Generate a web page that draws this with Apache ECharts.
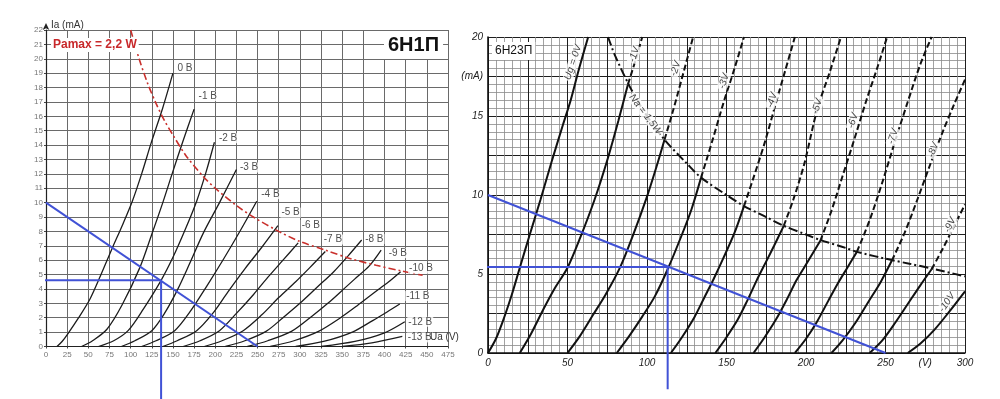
<!DOCTYPE html>
<html><head><meta charset="utf-8">
<script src="https://cdn.jsdelivr.net/npm/echarts@6/dist/echarts.min.js"></script>
<style>html,body{margin:0;padding:0;background:#fff}#c{width:1000px;height:399px}</style>
</head><body><div id="c"></div>
<script>
// ================= DATA: 6Н1П (left) =================
const leftGridLabels = ['0 В','-1 В','-2 В','-3 В','-4 В','-5 В','-6 В','-7 В','-8 В','-9 В','-10 В','-11 В','-12 В','-13 В'];
const L0  = [[13,0],[19,0.35],[26,0.9],[38,1.95],[52,3.3],[65,5],[78,6.8],[90,8.4],[102,10.1],[113,12],[124,14.1],[138,16.6],[150,19]];
const L1  = [[42,0],[55,0.4],[72,1.2],[90,2.9],[111,5.5],[125,7.8],[138,10],[149,12],[162,14.3],[175,16.5]];
const L2  = [[62,0],[80,0.4],[97,1.1],[115,2.6],[136,4.6],[150,6.2],[165,8.2],[178,10.1],[189,12.1],[199,14.2]];
const L3  = [[89,0],[105,0.4],[125,1.1],[140,2.3],[155,3.9],[170,5.8],[186,7.9],[205,10],[225,12.3]];
const L4  = [[113,0],[130,0.4],[152,1.1],[170,2.4],[190,4.2],[210,6.1],[230,8.1],[249,10.1]];
const L5  = [[138,0],[155,0.4],[178,1.1],[197,2.3],[215,3.8],[235,5.4],[255,6.9],[274,8.4]];
const L6  = [[162,0],[182,0.4],[205,1.1],[225,2.3],[245,3.6],[262,4.8],[280,6],[298,7.2]];
const L7  = [[187,0],[208,0.4],[233,1.1],[255,2.2],[275,3.4],[295,4.5],[312,5.5],[330,6.6]];
const L8  = [[212,0],[235,0.4],[260,1.05],[280,2],[300,3],[320,4.1],[340,5.2],[357,6.3],[373,7.4]];
const L9  = [[238,0],[262,0.4],[290,1.05],[312,2],[333,3],[350,3.9],[365,4.7],[382,5.6],[396,6.7]];
const L10 = [[265,0],[293,0.4],[322,1.05],[348,2],[368,2.85],[388,3.75],[405,4.5],[419,5.2]];
const L11 = [[295,0],[328,0.35],[362,1],[386,1.8],[403,2.4],[418,2.95]];
const L12 = [[325,0],[365,0.35],[400,0.95],[424,1.72]];
const L13 = [[350,0],[385,0.25],[421,0.7]];
const leftCurves = [L0,L1,L2,L3,L4,L5,L6,L7,L8,L9,L10,L11,L12,L13];
const leftPmaxCurve = [[100,22],[105,21],[110,20],[120,18.3],[130,16.9],[140,15.7],[150,14.7],[165,13.3],[186,11.8],[200,11],[225,9.8],[245,9],[275,8],[300,7.3],[330,6.7],[360,6.1],[390,5.65],[420,5.25],[445,4.95]];
const leftLoadLine = [[0,10],[250,0]];
const leftWorkPoint = [136,4.6];
const leftProjEnd = [-40,-3.65];
const leftXTicks = [0,25,50,75,100,125,150,175,200,225,250,275,300,325,350,375,400,425,450,475];
const leftXTickText = ['0','25','50','75','100','125','150','175','200','225','250','275','300','325','350','375','400','425','450','475'];
const leftYTicks = [0,1,2,3,4,5,6,7,8,9,10,11,12,13,14,15,16,17,18,19,20,21,22];
const leftYTickText = ['0','1','2','3','4','5','6','7','8','9','10','11','12','13','14','15','16','17','18','19','20','21','22'];

// ================= DATA: 6Н23П (right) =================
const rightGridLabels = ['Ug = 0V','-1V','-2V','-3V','-4V','-5V','-6V','-7V','-8V','-9V','-10V'];
const R0  = [[0,0],[5,0.9],[10,2.2],[15,3.7],[20,5.4],[26,7.4],[33,9.7],[40,12.1],[47,14.4],[52,16],[57,17.9],[63,20]];
const R1  = [[20,0],[27,1.2],[35,2.8],[42,4.1],[50,5.4],[58,7.3],[67,9.7],[75,12.2],[82,14.7],[88,17],[93,18.6],[97,20]];
const R2  = [[50,0],[58,1.1],[66,2.4],[74,3.7],[83,5.4],[91,7.4],[100,9.9],[106,11.8],[111,13.5],[116,15.2],[122,17.4],[129,20]];
const R3  = [[81,0],[89,1.1],[97,2.3],[105,3.6],[113,5.3],[122,7.5],[128,9.1],[134,11.1],[141,13.4],[148,15.8],[155,18],[161,20]];
const R4  = [[115,0],[122,1],[130,2.3],[136,3.5],[142,4.7],[148,6],[155,7.6],[161,9.3],[167,11.1],[174,13.3],[181,15.8],[187,17.9],[193,20]];
const R5  = [[143,0],[150,1],[157,2.1],[163,3.3],[169,4.6],[175,5.8],[180,6.8],[186,8.05],[192,9.7],[199,12],[207,15.4],[215,17.8],[222,20]];
const R6  = [[167,0],[174,1],[181,2.1],[188,3.4],[194,4.6],[200,5.6],[209,7.1],[216,9],[223,11.2],[230,13.4],[238,16],[245,18.1],[251,20]];
const R7  = [[193,0],[200,0.9],[207,2],[214,3.3],[220,4.4],[226,5.4],[232,6.4],[240,8.4],[248,10.8],[256,13.4],[264,15.9],[272,18.3],[279,20]];
const R8  = [[216,0],[223,0.8],[231,1.9],[239,3.2],[247,4.5],[254,5.85],[262,7.6],[270,9.7],[278,11.9],[286,14],[293,15.7],[300,17.3]];
const R9  = [[240,0],[248,0.8],[256,1.9],[264,3.1],[272,4.3],[279,5.3],[286,6.6],[293,8],[300,9.4]];
const R10 = [[264,0],[272,0.6],[281,1.5],[290,2.6],[300,3.9]];
const rightCurves = [R0,R1,R2,R3,R4,R5,R6,R7,R8,R9,R10];
const rightCross = [null,88,111,134,161,186,209,232,254,279,null];
const rightNaCurve = [[75.5,20],[80,18.8],[90,16.7],[100,15],[111,13.5],[125,12],[134,11.1],[150,10],[161,9.3],[175,8.6],[186,8.05],[200,7.5],[209,7.15],[225,6.65],[232,6.4],[254,5.88],[265,5.65],[279,5.35],[300,4.85]];
const rightNaLabel = 'Na = 1,5W';
const rightLoadLine = [[0,10],[250,0]];
const rightWorkPoint = [113,5.45];
const rightProjEnd = [-14.5,-2.3];
const rightXTicks = [0,50,100,150,200,250,275,300];
const rightXTickText = ['0','50','100','150','200','250','(V)','300'];
const rightYTicks = [0,5,10,15,17.5,20];
const rightYTickText = ['0','5','10','15','(mA)','20'];

// ================= LAYOUT (not data) =================
const leftLabelOffsets = [[3,-5],[3,-13],[3,-4],[2,-2],[3,-7],[2,-13],[2,-18],[-3,-12],[2,-1],[6,3],[7,-3],[5,-8],[2,0],[4,1]];
const rightLabelAnchors = [[53.5,18.4],[92,18.9],[118,18],[148.4,17.2],[178.6,16],[207,15.6],[229.6,14.7],[254.7,13.7],[280,12.85],[290.6,8.1],[288.7,3.2]];
const rightLabelRot = [72,72,72,72,72,72,72,72,70,64,55];
const rightNaAnchor = [99,15.1];
const BLUE = '#4152d6';
const FONT = '"Liberation Sans", Arial, sans-serif';
const SMOOTH = 0.3;

function tickFmt(ticks, texts){
  return function(v){ const i = ticks.findIndex(t => Math.abs(t - v) < 1e-6); return i >= 0 ? texts[i] : ''; };
}

const series = [];
leftCurves.forEach(c => series.push({
  type:'line', xAxisIndex:0, yAxisIndex:0, data:c, smooth:SMOOTH,
  symbol:'none', silent:true, z:3, lineStyle:{color:'#1c1c1c', width:1.3}
}));
series.push({type:'line', xAxisIndex:0, yAxisIndex:0, data:leftPmaxCurve, smooth:SMOOTH, symbol:'none', silent:true, z:4,
  lineStyle:{color:'#c9302c', width:1.6, type:[7,3,2,3]}});
series.push({type:'line', xAxisIndex:0, yAxisIndex:0, data:leftLoadLine, symbol:'none', silent:true, clip:false, z:5,
  lineStyle:{color:BLUE, width:2}});
series.push({type:'line', xAxisIndex:0, yAxisIndex:0, clip:false, symbol:'none', silent:true, z:5,
  data:[[leftProjEnd[0], leftWorkPoint[1]], leftWorkPoint, [leftWorkPoint[0], leftProjEnd[1]]],
  lineStyle:{color:BLUE, width:2}});
series.push({type:'scatter', xAxisIndex:0, yAxisIndex:0, symbolSize:1, silent:true, clip:false, z:6,
  itemStyle:{color:'rgba(0,0,0,0)'},
  data: leftCurves.map((c,i) => ({value:c[c.length-1], label:{show:true, formatter:leftGridLabels[i], position:'right', distance:0, offset:leftLabelOffsets[i]}})),
  label:{fontSize:10, color:'#222', fontFamily:FONT, backgroundColor:'#fff', padding:[0,1]}});

rightCurves.forEach((c,i) => {
  const x = rightCross[i];
  const solid = x == null ? c : c.filter(p => p[0] <= x);
  series.push({type:'line', xAxisIndex:1, yAxisIndex:1, data:solid, smooth:SMOOTH, symbol:'none', silent:true, z:3,
    lineStyle:{color:'#111', width:2}});
  if (x != null) {
    series.push({type:'line', xAxisIndex:1, yAxisIndex:1, data:c.filter(p => p[0] >= x), smooth:SMOOTH, symbol:'none', silent:true, z:3,
      lineStyle:{color:'#111', width:2, type:[6,3]}});
  }
});
series.push({type:'line', xAxisIndex:1, yAxisIndex:1, data:rightNaCurve, smooth:SMOOTH, symbol:'none', silent:true, z:4,
  lineStyle:{color:'#111', width:2, type:[9,3,2,3]}});
series.push({type:'line', xAxisIndex:1, yAxisIndex:1, data:rightLoadLine, symbol:'none', silent:true, clip:false, z:5,
  lineStyle:{color:BLUE, width:2}});
series.push({type:'line', xAxisIndex:1, yAxisIndex:1, clip:false, symbol:'none', silent:true, z:5,
  data:[[rightProjEnd[0], rightWorkPoint[1]], rightWorkPoint, [rightWorkPoint[0], rightProjEnd[1]]],
  lineStyle:{color:BLUE, width:2}});
series.push({type:'scatter', xAxisIndex:1, yAxisIndex:1, symbolSize:1, silent:true, clip:false, z:6,
  itemStyle:{color:'rgba(0,0,0,0)'},
  data: rightLabelAnchors.map((a,i) => ({value:a, label:{show:true, formatter:rightGridLabels[i], rotate:rightLabelRot[i]}}))
    .concat([{value:rightNaAnchor, label:{show:true, formatter:rightNaLabel, rotate:-53}}]),
  label:{position:'inside', fontSize:10, fontStyle:'italic', color:'#111', fontFamily:FONT, backgroundColor:'#fff', padding:[0,1]}});

const chart = echarts.init(document.getElementById('c'), null, {renderer:'canvas'});
chart.setOption({
  animation:false,
  backgroundColor:'#fff',
  grid:[
    {left:46, top:30, width:402, height:316.5},
    {left:488, top:37, width:477, height:316}
  ],
  xAxis:[
    {gridIndex:0, type:'value', min:0, max:475, interval:25,
      axisLine:{show:true, onZero:false, lineStyle:{color:'#222', width:1.2}},
      axisTick:{show:true, length:2, lineStyle:{color:'#444'}},
      axisLabel:{fontSize:8, color:'#777', margin:4, fontFamily:FONT, formatter:tickFmt(leftXTicks,leftXTickText)},
      splitLine:{show:true, lineStyle:{color:'#6a6a6a', width:1}}},
    {gridIndex:1, type:'value', min:0, max:300, interval:25,
      axisLine:{show:true, onZero:false, lineStyle:{color:'#111', width:1.6}},
      axisTick:{show:false},
      minorTick:{show:true, splitNumber:5, length:0},
      minorSplitLine:{show:true, lineStyle:{color:'#8a8a8a', width:0.8}},
      axisLabel:{fontSize:10, fontStyle:'italic', color:'#222', margin:5, fontFamily:FONT, formatter:tickFmt(rightXTicks,rightXTickText)},
      splitLine:{show:true, lineStyle:{color:'#1e1e1e', width:1}}}
  ],
  yAxis:[
    {gridIndex:0, type:'value', min:0, max:22, interval:1,
      name:'Ia (mA)', nameLocation:'end', nameGap:2,
      nameTextStyle:{align:'left', verticalAlign:'bottom', padding:[0,0,-2,5], fontSize:10, color:'#333', fontFamily:FONT},
      axisLine:{show:true, onZero:false, symbol:['none','arrow'], symbolSize:[5,7], symbolOffset:[0,7], lineStyle:{color:'#222', width:1.2}},
      axisTick:{show:true, length:2, lineStyle:{color:'#444'}},
      axisLabel:{fontSize:8, color:'#777', margin:3, fontFamily:FONT, formatter:tickFmt(leftYTicks,leftYTickText)},
      splitLine:{show:true, lineStyle:{color:'#6a6a6a', width:1}}},
    {gridIndex:1, type:'value', min:0, max:20, interval:2.5,
      axisLine:{show:true, onZero:false, lineStyle:{color:'#111', width:1.6}},
      axisTick:{show:false},
      minorTick:{show:true, splitNumber:5, length:0},
      minorSplitLine:{show:true, lineStyle:{color:'#8a8a8a', width:0.8}},
      axisLabel:{fontSize:10, fontStyle:'italic', color:'#222', margin:5, fontFamily:FONT, formatter:tickFmt(rightYTicks,rightYTickText)},
      splitLine:{show:true, lineStyle:{color:'#1e1e1e', width:1}}}
  ],
  graphic:[
    {type:'text', left:51, top:38, z:50, style:{text:'Pamax = 2,2 W', fill:'#c8282a', font:'bold 12px ' + FONT, backgroundColor:'#fff', padding:[1,2]}},
    {type:'text', left:384, top:31, z:50, style:{text:'6Н1П', fill:'#111', font:'bold 20px ' + FONT, backgroundColor:'#fff', padding:[4,4]}},
    {type:'text', left:492, top:42, z:50, style:{text:'6Н23П', fill:'#111', font:'12px ' + FONT, backgroundColor:'#fff', padding:[3,3]}},
    {type:'text', left:430, top:332, z:50, style:{text:'Ua (V)', fill:'#333', font:'10px ' + FONT}}
  ],
  series: series
});
</script>
</body></html>
